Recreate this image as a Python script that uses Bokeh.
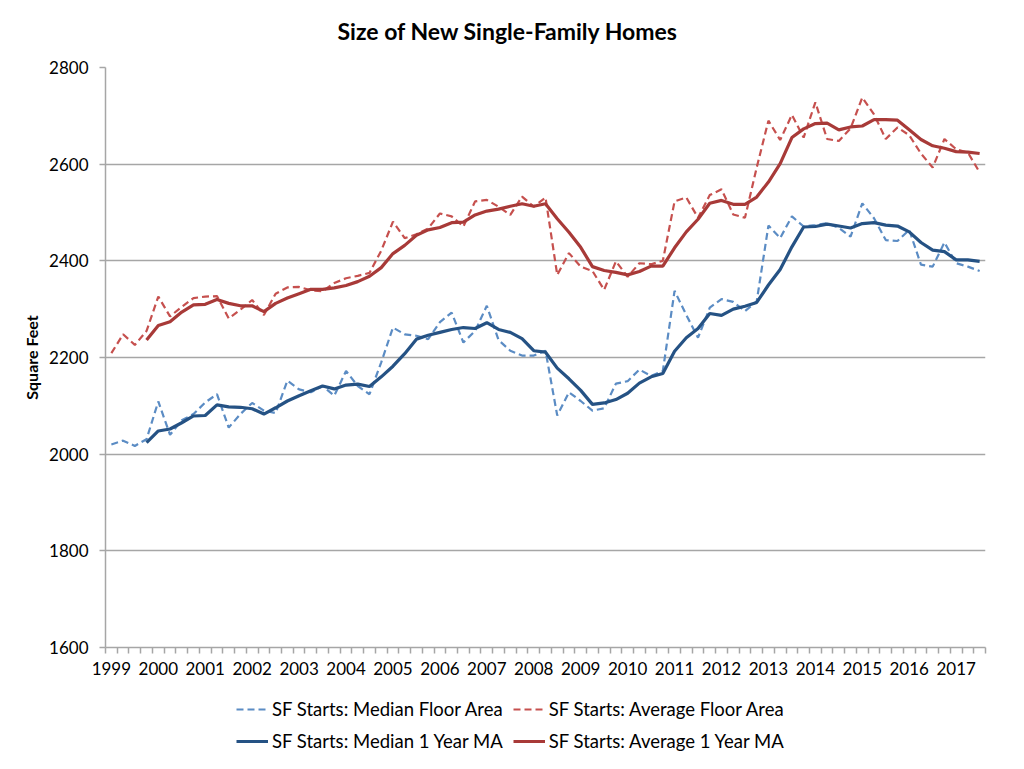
from bokeh.plotting import figure
from bokeh.layouts import column
from bokeh.models import Range1d, FixedTicker, Legend, LegendItem
from bokeh.embed import file_html
from bokeh.resources import INLINE

nan = float("nan")

# ---- data (quarterly, 1999Q1 .. 2017Q3) ----
years = ["1999", "2000", "2001", "2002", "2003", "2004", "2005", "2006", "2007",
         "2008", "2009", "2010", "2011", "2012", "2013", "2014", "2015", "2016", "2017"]
y_ticks = [1600, 1800, 2000, 2200, 2400, 2600, 2800]

median_floor_area = [
    2020, 2028, 2017, 2031, 2109, 2040, 2070, 2083, 2107, 2124, 2055, 2083, 2106, 2090, 2085,
    2152, 2134, 2128, 2141, 2121, 2172, 2141, 2124, 2190, 2262, 2248, 2245, 2238, 2273, 2293,
    2231, 2255, 2307, 2236, 2214, 2204, 2204, 2214, 2080, 2128, 2110, 2090, 2095, 2146, 2151,
    2175, 2162, 2172, 2338, 2288, 2241, 2303, 2321, 2315, 2296, 2316, 2473, 2447, 2492, 2471,
    2474, 2478, 2468, 2450, 2519, 2488, 2443, 2441, 2464, 2392, 2388, 2438, 2395, 2388, 2379]

average_floor_area = [
    2209, 2248, 2226, 2255, 2326, 2285, 2305, 2323, 2326, 2327, 2281, 2299, 2319, 2288, 2332,
    2345, 2346, 2339, 2337, 2354, 2364, 2369, 2375, 2421, 2481, 2447, 2455, 2467, 2498, 2492,
    2471, 2523, 2526, 2512, 2495, 2533, 2512, 2531, 2371, 2416, 2388, 2379, 2340, 2399, 2367,
    2395, 2393, 2400, 2523, 2531, 2489, 2536, 2548, 2496, 2489, 2593, 2690, 2650, 2702, 2655,
    2728, 2652, 2648, 2674, 2738, 2703, 2652, 2676, 2660, 2622, 2593, 2652, 2631, 2624, 2583]

median_1yr_ma = [
    nan, nan, nan, 2024, 2048, 2052, 2065, 2079, 2080, 2102, 2098, 2097, 2094, 2083, 2096,
    2110, 2121, 2131, 2141, 2135, 2143, 2145, 2140, 2160, 2182, 2208, 2238, 2246, 2252, 2258,
    2262, 2260, 2272, 2258, 2252, 2239, 2214, 2211, 2178, 2156, 2132, 2103, 2106, 2113, 2126,
    2147, 2160, 2167, 2213, 2241, 2260, 2291, 2287, 2300, 2306, 2314, 2350, 2382, 2429, 2470,
    2471, 2476, 2472, 2468, 2477, 2479, 2474, 2472, 2460, 2438, 2422, 2419, 2402, 2402, 2399]

average_1yr_ma = [
    nan, nan, nan, 2236, 2266, 2274, 2294, 2309, 2310, 2320, 2312, 2307, 2307, 2295, 2312,
    2323, 2332, 2341, 2341, 2344, 2349, 2357, 2368, 2386, 2415, 2432, 2453, 2464, 2469, 2479,
    2480, 2495, 2503, 2507, 2513, 2518, 2513, 2518, 2487, 2459, 2428, 2388, 2380, 2376, 2371,
    2378, 2389, 2389, 2427, 2460, 2486, 2519, 2525, 2517, 2517, 2532, 2563, 2601, 2655, 2673,
    2684, 2685, 2671, 2677, 2679, 2692, 2692, 2691, 2671, 2651, 2638, 2633, 2626, 2625, 2622]

series_labels = ["SF Starts: Median Floor Area", "SF Starts: Average Floor Area",
                 "SF Starts: Median 1 Year MA", "SF Starts: Average 1 Year MA"]
chart_title = "Size of New Single-Family Homes"
y_label = "Square Feet"

quarter_index = list(range(len(median_floor_area)))

# ---- styling ----
FONT = "Lato"
GRID = "#a6a6a6"
BLUE_LIGHT = "#5b8cc4"
BLUE_DARK = "#255284"
RED_LIGHT = "#c6504e"
RED_DARK = "#a83a38"
styles = [
    dict(line_color=BLUE_LIGHT, line_width=2.2, line_dash="7 4"),
    dict(line_color=RED_LIGHT, line_width=2.2, line_dash="7 4"),
    dict(line_color=BLUE_DARK, line_width=3.2),
    dict(line_color=RED_DARK, line_width=3.2),
]

W = 1017
FRAME_L, FRAME_R = 105, 985


def blank_panel(height, top):
    f = figure(width=W, height=height, output_backend="svg", toolbar_location=None,
               x_axis_type=None, y_axis_type=None,
               x_range=Range1d(0, 1), y_range=Range1d(0, 1),
               min_border_left=FRAME_L, min_border_right=W - FRAME_R,
               min_border_top=top, min_border_bottom=0)
    f.outline_line_color = None
    f.xgrid.grid_line_color = None
    f.ygrid.grid_line_color = None
    f.border_fill_color = "white"
    f.background_fill_color = "white"
    return f


# ---- title panel ----
TH = 55
title_fig = blank_panel(TH, 49)
title_fig.title.text = chart_title
title_fig.title.align = "left"
title_fig.title.offset = 232
title_fig.title.text_font = FONT
title_fig.title.text_font_size = "23px"
title_fig.title.text_font_style = "bold"
title_fig.title.text_color = "#000000"
title_fig.title.standoff = 10

# ---- main chart ----
FRAME_T = 67 - TH
H = 690 - TH
FRAME_B = 647 - TH
p = figure(width=W, height=H, output_backend="svg", toolbar_location=None, title=None,
           x_range=Range1d(-0.5, len(quarter_index) - 0.5),
           y_range=Range1d(y_ticks[0], y_ticks[-1]),
           min_border_left=FRAME_L, min_border_right=W - FRAME_R,
           min_border_top=FRAME_T, min_border_bottom=H - FRAME_B)

p.background_fill_color = "white"
p.border_fill_color = "white"
p.outline_line_color = None

# x axis: year labels under Q1 of each year, small ticks between quarters
year_positions = [4 * k for k in range(len(years))]
boundaries = [i - 0.5 for i in range(len(quarter_index) + 1)]
p.xaxis.ticker = FixedTicker(ticks=year_positions, minor_ticks=boundaries)
p.xaxis.major_label_overrides = {pos: lab for pos, lab in zip(year_positions, years)}
p.xaxis.major_tick_line_color = None
p.xaxis.minor_tick_line_color = GRID
p.xaxis.minor_tick_line_width = 1.5
p.xaxis.minor_tick_out = 6
p.xaxis.minor_tick_in = 0
p.xaxis.axis_line_color = GRID
p.xaxis.axis_line_width = 1.5
p.xaxis.major_label_text_font = FONT
p.xaxis.major_label_text_font_size = "17px"
p.xaxis.major_label_text_color = "#000000"
p.xaxis.major_label_standoff = 8

# y axis
p.yaxis.ticker = FixedTicker(ticks=y_ticks, minor_ticks=[])
p.yaxis.axis_label = y_label
p.yaxis.axis_label_text_font = FONT
p.yaxis.axis_label_text_font_size = "16px"
p.yaxis.axis_label_text_font_style = "bold"
p.yaxis.axis_label_text_color = "#000000"
p.yaxis.axis_label_standoff = 5
p.yaxis.major_label_text_font = FONT
p.yaxis.major_label_text_font_size = "17px"
p.yaxis.major_label_text_color = "#000000"
p.yaxis.major_label_standoff = 11
p.yaxis.major_tick_line_color = GRID
p.yaxis.major_tick_line_width = 1.5
p.yaxis.major_tick_out = 6
p.yaxis.major_tick_in = 0
p.yaxis.axis_line_color = GRID
p.yaxis.axis_line_width = 1.5

p.xgrid.grid_line_color = None
p.ygrid.grid_line_color = GRID
p.ygrid.grid_line_width = 1.5

# lines
series = [median_floor_area, average_floor_area, median_1yr_ma, average_1yr_ma]
for values, st in zip(series, styles):
    p.line(quarter_index, values, **st)

# ---- legend panel below the chart ----
LH = 75
leg_fig = blank_panel(LH, 0)

items = []
for lab, st in zip(series_labels, styles):
    r = leg_fig.line([nan], [nan], **st)   # legend swatch only, no data drawn
    items.append(LegendItem(label=lab, renderers=[r]))

legend = Legend(items=items, orientation="horizontal", ncols=2, location=(236 - FRAME_L, 13))
legend.border_line_color = None
legend.background_fill_alpha = 0
legend.label_text_font = FONT
legend.label_text_font_size = "18.5px"
legend.label_text_color = "#000000"
legend.glyph_width = 32
legend.glyph_height = 22
legend.label_height = 22
legend.label_standoff = 4
legend.spacing = 10
legend.padding = 0
legend.margin = 0
leg_fig.add_layout(legend, "center")

layout = column(title_fig, p, leg_fig, spacing=0)
open("out.html", "w").write(file_html(layout, INLINE))
